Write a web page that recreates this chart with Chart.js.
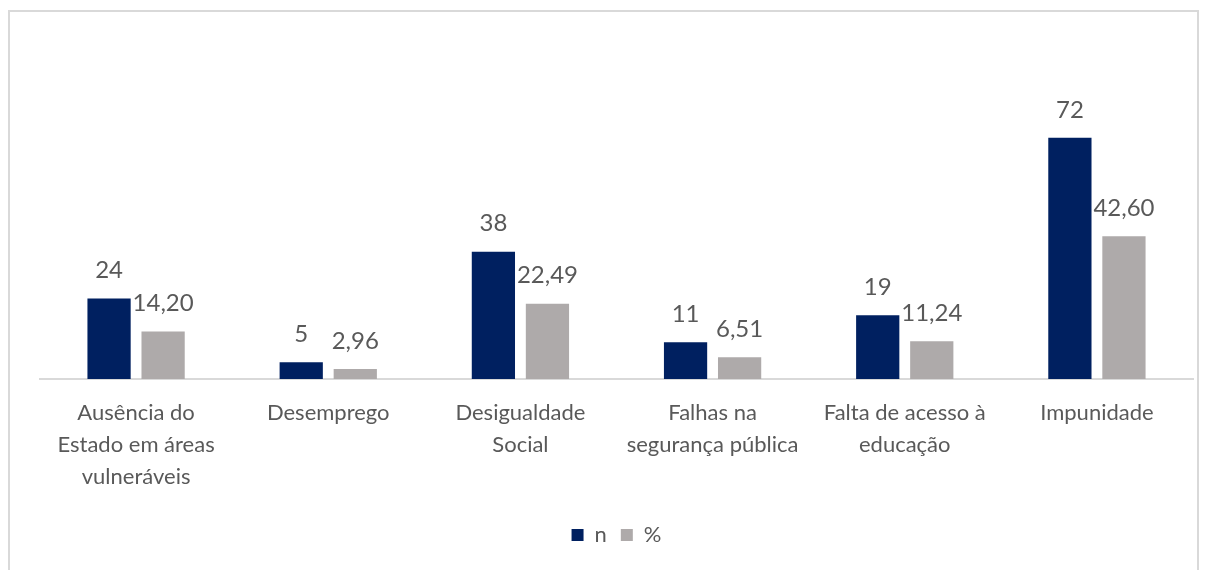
<!DOCTYPE html>
<html>
<head>
<meta charset="utf-8">
<script src="https://cdn.jsdelivr.net/npm/chart.js@4/dist/chart.umd.min.js"></script>
<style>
  html, body { margin: 0; padding: 0; background: #fff; }
  #wrap { position: relative; width: 1211px; height: 570px; overflow: hidden; }
  #moldura { position: absolute; left: 8px; top: 10px; width: 1191px; height: 600px;
             border: 2px solid #D9D9D9; box-sizing: border-box; }
  canvas { position: absolute; left: 0; top: 0; }
</style>
</head>
<body>
<div id="wrap">
  <div id="moldura"></div>
  <canvas id="grafico" width="1211" height="570"></canvas>
</div>
<script>
/* dados */
const categorias = [
  ['Ausência do', 'Estado em áreas', 'vulneráveis'],
  'Desemprego',
  ['Desigualdade', 'Social'],
  ['Falhas na', 'segurança pública'],
  ['Falta de acesso à', 'educação'],
  'Impunidade'
];
const valoresN = [24, 5, 38, 11, 19, 72];
const valoresPct = [14.20, 2.96, 22.49, 6.51, 11.24, 42.60];

const corTexto = '#595959';
const fonte = 'Lato, "Open Sans", sans-serif';

// rotulos por cima das barras
const rotulosPlugin = {
  id: 'rotulos',
  afterDatasetsDraw(chart) {
    const ctx = chart.ctx;
    ctx.save();
    ctx.font = '24px ' + fonte;
    ctx.fillStyle = corTexto;
    ctx.textAlign = 'center';
    ctx.textBaseline = 'middle';
    chart.data.datasets.forEach((ds, i) => {
      chart.getDatasetMeta(i).data.forEach((bar, j) => {
        const v = ds.data[j];
        const txt = i === 0 ? String(v) : v.toFixed(2).replace('.', ',');
        ctx.fillText(txt, bar.x, bar.y - 28);
      });
    });
    ctx.restore();
  }
};

new Chart(document.getElementById('grafico'), {
  type: 'bar',
  data: {
    labels: categorias,
    datasets: [
      { label: 'n', data: valoresN, backgroundColor: '#002060',
        categoryPercentage: 0.5625, barPercentage: 0.8 },
      { label: '%', data: valoresPct, backgroundColor: '#AEAAAA',
        categoryPercentage: 0.5625, barPercentage: 0.8 }
    ]
  },
  options: {
    responsive: false,
    animation: false,
    layout: { padding: { left: 40, right: 18, top: 111, bottom: 14 } },
    scales: {
      x: {
        grid: { display: false, drawTicks: false },
        border: { display: true, color: '#D9D9D9', width: 2 },
        ticks: { color: corTexto, font: { family: fonte, size: 22, lineHeight: 1.4545 },
                 padding: 18, maxRotation: 0, autoSkip: false },
        afterFit: (s) => { s.height = 131; }
      },
      y: { display: false, min: 0, max: 80 }
    },
    plugins: {
      legend: {
        position: 'bottom',
        labels: { color: corTexto, font: { family: fonte, size: 22 },
                  boxWidth: 12, boxHeight: 12, padding: 14 }
      },
      tooltip: { enabled: false }
    }
  },
  plugins: [rotulosPlugin]
});
</script>
</body>
</html>
